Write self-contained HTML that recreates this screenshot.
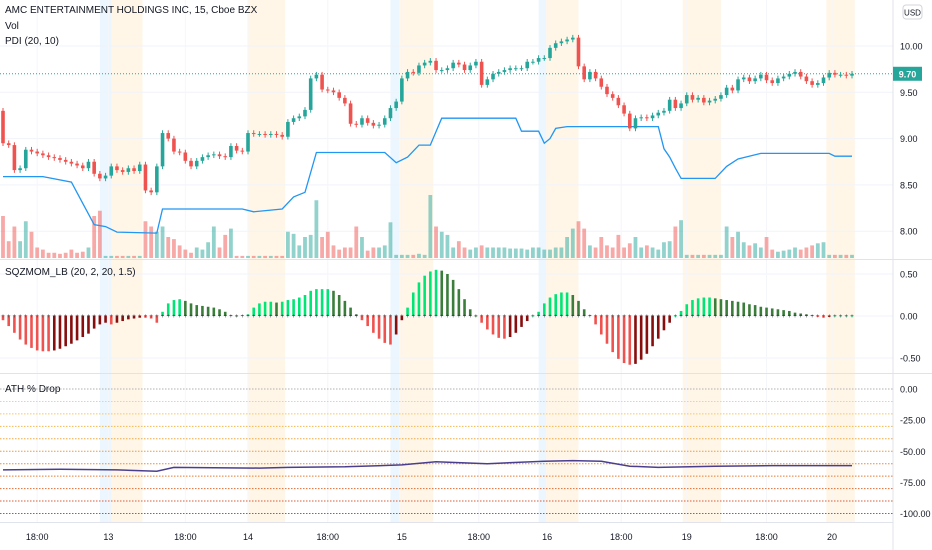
<!DOCTYPE html>
<html><head><meta charset="utf-8"><style>
html,body{margin:0;padding:0;background:#fff;}
#wrap{position:relative;width:932px;height:550px;overflow:hidden;font-family:"Liberation Sans",sans-serif;}
svg text{font-family:"Liberation Sans",sans-serif;}
</style></head><body>
<div id="wrap">
<svg id="chart" width="932" height="550" viewBox="0 0 932 550" xmlns="http://www.w3.org/2000/svg">
<rect x="0" y="0" width="932" height="550" fill="#ffffff"/>
<g id="bands"></g><g id="grid"></g><g id="vol"></g><g id="pdi"></g><g id="candles"></g><g id="mom"></g><g id="ath"></g><g id="axes"></g>
<text x="5" y="13" font-size="10" fill="#131722">AMC ENTERTAINMENT HOLDINGS INC, 15, Cboe BZX</text>
<text x="5" y="29" font-size="10" fill="#131722">Vol</text>
<text x="5" y="44" font-size="10" fill="#131722">PDI (20, 10)</text>
<text x="5" y="275" font-size="10" fill="#131722">SQZMOM_LB (20, 2, 20, 1.5)</text>
<text x="5" y="392" font-size="10" fill="#131722">ATH % Drop</text>
<rect x="903" y="5" width="19" height="14" rx="3" fill="#fff" stroke="#d1d4dc"/>
<text x="912.5" y="15.5" font-size="8" fill="#131722" text-anchor="middle">USD</text>
</svg></div>
<script>
const closes=[8.95,8.93,8.66,8.68,8.88,8.86,8.84,8.82,8.80,8.79,8.77,8.75,8.73,8.71,8.68,8.75,8.62,8.57,8.60,8.70,8.66,8.64,8.68,8.65,8.72,8.44,8.42,8.70,9.06,9.00,8.86,8.85,8.76,8.70,8.76,8.80,8.82,8.83,8.81,8.80,8.92,8.87,8.86,9.06,9.05,9.05,9.04,9.05,9.04,9.02,9.18,9.22,9.24,9.31,9.65,9.69,9.53,9.52,9.50,9.44,9.38,9.16,9.15,9.22,9.17,9.14,9.15,9.22,9.33,9.40,9.65,9.72,9.71,9.79,9.82,9.84,9.74,9.74,9.76,9.82,9.80,9.74,9.79,9.83,9.58,9.64,9.70,9.72,9.74,9.76,9.76,9.76,9.83,9.83,9.87,9.87,9.98,10.03,10.05,10.07,10.09,9.78,9.64,9.72,9.65,9.56,9.48,9.44,9.36,9.27,9.11,9.22,9.23,9.22,9.25,9.28,9.30,9.42,9.33,9.38,9.47,9.42,9.44,9.39,9.41,9.43,9.47,9.55,9.52,9.64,9.66,9.62,9.65,9.69,9.63,9.60,9.65,9.67,9.70,9.72,9.67,9.62,9.58,9.60,9.66,9.71,9.69,9.69,9.68,9.70];
const firstOpen=9.30;
const volumes=[40,16,30,16,35,25,10,8,5,5,4,5,8,5,6,10,40,45,2,2,2,2,2,2,2,35,30,25,30,20,18,12,8,5,10,8,15,30,10,22,28,2,2,2,2,2,2,2,2,2,25,23,12,20,22,55,20,25,12,8,10,10,30,20,7,10,10,12,34,3,3,3,3,4,3,60,30,25,22,10,16,10,8,10,12,10,10,10,10,9,9,9,8,10,10,8,8,10,10,20,28,35,28,12,10,20,12,10,22,10,14,20,10,12,10,8,15,16,30,36,3,3,3,3,3,3,3,30,20,25,15,12,14,10,20,8,6,7,8,10,8,10,12,14,15,3,3,3,3,3];
const momentum=[-0.05,-0.12,-0.2,-0.28,-0.34,-0.38,-0.41,-0.42,-0.42,-0.41,-0.39,-0.36,-0.33,-0.29,-0.25,-0.21,-0.15,-0.1,-0.08,-0.1,-0.08,-0.06,-0.04,-0.03,-0.02,-0.02,-0.03,-0.08,0.05,0.15,0.19,0.2,0.18,0.15,0.13,0.12,0.11,0.1,0.08,0.05,0.01,0.0,0.01,0.02,0.1,0.15,0.17,0.17,0.16,0.17,0.19,0.2,0.22,0.25,0.3,0.32,0.32,0.32,0.3,0.25,0.18,0.1,0.02,-0.05,-0.12,-0.2,-0.27,-0.32,-0.34,-0.22,-0.05,0.1,0.28,0.4,0.48,0.53,0.55,0.54,0.5,0.43,0.32,0.2,0.08,0.0,-0.08,-0.16,-0.22,-0.26,-0.27,-0.25,-0.2,-0.13,-0.06,0.0,0.05,0.15,0.22,0.26,0.28,0.28,0.25,0.18,0.08,0.01,-0.1,-0.22,-0.33,-0.43,-0.51,-0.56,-0.58,-0.57,-0.52,-0.45,-0.36,-0.27,-0.17,-0.08,0.0,0.06,0.14,0.19,0.21,0.22,0.22,0.21,0.2,0.19,0.18,0.17,0.16,0.14,0.13,0.11,0.1,0.09,0.08,0.07,0.06,0.04,0.03,0.02,0.01,-0.01,-0.02,-0.01,0.0,0.0,0.0,0.0];
const pdiIdx=[0,7,12,14,16,18,20,27,28,42,44,49,51,53,55,67,69,71,73,75,77,90,91,94,95,96,97,99,115,116,117,118,119,120,125,127,129,133,145,146,149];
const pdiVals=[8.59,8.59,8.53,8.30,8.07,8.05,7.99,7.98,8.24,8.24,8.21,8.24,8.37,8.42,8.85,8.85,8.74,8.80,8.93,8.93,9.22,9.22,9.08,9.08,8.95,9.00,9.11,9.13,9.13,8.89,8.80,8.68,8.57,8.57,8.57,8.70,8.78,8.84,8.84,8.81,8.81];
const athIdx=[0,10,20,27,30,45,50,60,70,76,85,95,100,105,110,115,125,135,149];
const athVals=[-65,-64.5,-65,-66,-63,-63.5,-63,-62.5,-61,-58.5,-60,-58,-57.5,-58,-62,-63,-62,-61.5,-61.5];
const athLevels=[0,-10,-20,-30,-40,-50,-60,-70,-80,-90,-100];
const athLevelColors=["#b0b0b0","#f5d76e","#f5c860","#f3b94f","#f0a845","#ee9a3c","#eb8a36","#e67b33","#e06c34","#d85b38","#d04a3c"];
const priceTicks=[10.00,9.50,9.00,8.50,8.00];
const momTicks=[0.50,0.00,-0.50];
const athTicks=[0,-25,-50,-75,-100];
const timeLabels=["18:00","13","18:00","14","18:00","15","18:00","16","18:00","19","18:00","20"];
const timeLabelIdx=[6,18.5,32,43,57,70,83.5,95.5,108.5,120,134,145.5];
const bandIdx=[[17,19,"b"],[19,24.5,"o"],[43,49.5,"o"],[68,69.5,"b"],[69.5,75.5,"o"],[94,95.3,"b"],[95.3,101,"o"],[119.3,126,"o"],[144.5,149.5,"o"]];
const lastPrice=9.70;

const NS="http://www.w3.org/2000/svg";
const PLOT_W=893, N=closes.length;
function xOf(i){return 3+i*(849/(N-1));}
function yPrice(p){return 46+(10-p)*92.6;}
function yVol(v){return 258-v*1.05;}
function yMom(m){return 316-m*84;}
function yA(a){return 389+(-a)*1.245;}
function mk(tag,attrs,parent){const e=document.createElementNS(NS,tag);for(const k in attrs)e.setAttribute(k,attrs[k]);parent.appendChild(e);return e;}
const G=id=>document.getElementById(id);

bandIdx.forEach(b=>{
  const x1=xOf(b[0]),x2=xOf(b[1]);
  const r=mk('rect',{x:x1,y:0,width:x2-x1,height:522,fill:b[2]==="b"?"rgba(33,150,243,0.09)":"rgba(255,152,0,0.09)"},G('bands'));
  
  
});
priceTicks.forEach(t=>{const l=mk('line',{x1:0,x2:PLOT_W,y1:yPrice(t),y2:yPrice(t),stroke:"#f0f3fa"},G('grid'));
  });
momTicks.forEach(t=>{const l=mk('line',{x1:0,x2:PLOT_W,y1:yMom(t),y2:yMom(t),stroke:"#f0f3fa"},G('grid'));
  });
timeLabelIdx.forEach(ti=>{const l=mk('line',{x1:xOf(ti),x2:xOf(ti),y1:0,y2:522,stroke:"#f5f6fa"},G('grid'));
  });
closes.forEach((c,i)=>{
  const prev=i?closes[i-1]:firstOpen;const up=c>=prev;
  const y=yVol(volumes[i]);
  const r=mk('rect',{x:xOf(i)-1.9,y:y,width:3.8,height:258-y,fill:up?"rgba(38,166,154,0.5)":"rgba(239,83,80,0.5)"},G('vol'));
  
  
});
let pd="";pdiIdx.forEach((ix,k)=>{pd+=(k?"L":"M")+xOf(ix).toFixed(1)+","+yPrice(pdiVals[k]).toFixed(1);});
const pl=mk('path',{d:pd,fill:"none",stroke:"#2196f3","stroke-width":1.3},G('pdi'));


const lp=mk('line',{x1:0,x2:PLOT_W,y1:yPrice(lastPrice),y2:yPrice(lastPrice),stroke:"#26a69a","stroke-dasharray":"1,2","stroke-width":1},G('pdi'));


closes.forEach((c,i)=>{
  const o=i?closes[i-1]:firstOpen;const up=c>=o;const col=up?"#26a69a":"#ef5350";
  const hi=Math.max(o,c)+0.03,lo=Math.min(o,c)-0.03;
  const g=mk('g',{},G('candles'));
  
  
  mk('line',{x1:xOf(i),x2:xOf(i),y1:yPrice(hi),y2:yPrice(lo),stroke:col,"stroke-width":1},g);
  const yt=yPrice(Math.max(o,c)),yb=yPrice(Math.min(o,c));
  mk('rect',{x:xOf(i)-1.8,y:yt,width:3.6,height:Math.max(1,yb-yt),fill:col},g);
});
momentum.forEach((m,i)=>{
  const prev=i?momentum[i-1]:0;let col;
  if(m>=0)col=m>=prev?"#00e676":"#3b7d3b";else col=m<=prev?"#ef5350":"#880e0e";
  const y0=yMom(0),y1=yMom(m);
  const b=mk('rect',{x:xOf(i)-1.3,y:Math.min(y0,y1),width:2.6,height:Math.max(0.5,Math.abs(y1-y0)),fill:col},G('mom'));
  
  
  const d=mk('text',{x:xOf(i),y:y0+2.2,"font-size":6,"text-anchor":"middle",fill:"#333"},G('mom'));
  d.textContent="+";
  
  
});
athLevels.forEach((lv,k)=>{
  const l=mk('line',{x1:0,x2:PLOT_W,y1:yA(lv),y2:yA(lv),stroke:athLevelColors[k],"stroke-dasharray":"1.5,1.5","stroke-width":1},G('ath'));
  
  
});
let ad="";athIdx.forEach((ix,k)=>{ad+=(k?"L":"M")+xOf(ix).toFixed(1)+","+yA(athVals[k]).toFixed(1);});
const al=mk('path',{d:ad,fill:"none",stroke:"#4a3f8f","stroke-width":1.5},G('ath'));


const ax=G('axes');
[[PLOT_W,0,PLOT_W,550],[0,259.5,932,259.5],[0,373.5,932,373.5],[0,522.5,PLOT_W,522.5]].forEach(s=>{
  const l=mk('line',{x1:s[0],y1:s[1],x2:s[2],y2:s[3],stroke:"#e0e3eb"},ax);
  });
function axText(t,y,name){const e=mk('text',{x:900,y:y+3.5,"font-size":9,fill:"#131722"},ax);e.textContent=t;
  }
priceTicks.forEach(t=>axText(t.toFixed(2),yPrice(t),'price-tick-label'));
momTicks.forEach(t=>axText(t.toFixed(2),yMom(t),'momentum-tick-label'));
athTicks.forEach(t=>axText(t.toFixed(2),yA(t),'ath-tick-label'));
const pb=mk('rect',{x:893,y:yPrice(lastPrice)-7,width:29,height:14,fill:"#26a69a"},ax);

const pt=mk('text',{x:907.5,y:yPrice(lastPrice)+3.5,"font-size":9,fill:"#fff","text-anchor":"middle","font-weight":"bold"},ax);
pt.textContent=lastPrice.toFixed(2);

timeLabels.forEach((t,k)=>{const e=mk('text',{x:xOf(timeLabelIdx[k]),y:540,"font-size":9,fill:"#131722","text-anchor":"middle"},ax);
  e.textContent=t;});
</script>
</body></html>
